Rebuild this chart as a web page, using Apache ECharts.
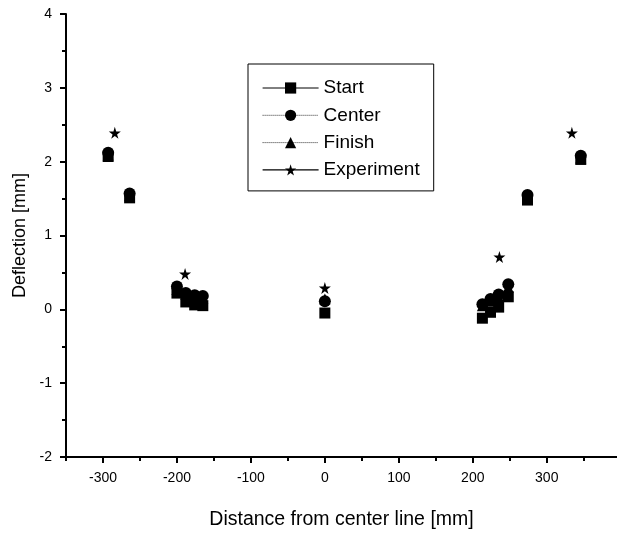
<!DOCTYPE html>
<html><head><meta charset="utf-8">
<script src="https://cdn.jsdelivr.net/npm/echarts@6/dist/echarts.min.js"></script>
<style>html,body{margin:0;padding:0;background:#fff}#c{width:617px;height:535px}</style>
</head><body><div id="c"></div>
<script>
// ---- data ----
const seriesNames = ['Start', 'Center', 'Finish', 'Experiment'];
const groupX  = [-293, -264, -200, -188, -176, -165, 0, 213, 224, 235, 248, 274, 346];
const startY  = [2.07, 1.51, 0.22, 0.10, 0.06, 0.05, -0.05, -0.12, -0.04, 0.03, 0.17, 1.48, 2.03];
const centerY = [2.12, 1.57, 0.31, 0.22, 0.19, 0.18, 0.11, 0.07, 0.14, 0.20, 0.34, 1.55, 2.08];
const finishY = [2.09, 1.54, 0.27, 0.20, 0.18, 0.15, 0.14, 0.05, 0.11, 0.17, 0.30, 1.52, 2.05];
const expX    = [-284, -189, 0, 236, 334];
const expY    = [2.39, 0.48, 0.29, 0.71, 2.39];
const xMajorTicks = [-300, -200, -100, 0, 100, 200, 300];
const xMinorTicks = [-350, -250, -150, -50, 50, 150, 250, 350];

const zip = (xs, ys) => xs.map((x, i) => [x, ys[i]]);
const STAR = 'path://M50,0 L61,35 L98,35 L68,57 L79,91 L50,70 L21,91 L32,57 L2,35 L39,35 Z';
const FONT = '"Liberation Sans", Arial, sans-serif';

const chart = echarts.init(document.getElementById('c'), null, {renderer: 'canvas'});
const mk = (name, data, symbol, size) => ({
  name, type: 'line', data, symbol, symbolSize: size,
  showAllSymbol: true,
  itemStyle: {color: '#000'},
  lineStyle: {opacity: 0, width: 0},
  emphasis: {disabled: true},
  animation: false
});
const legendLine = (type, color, width) => ({opacity: 1, width, type, color});
chart.setOption({
  animation: false,
  grid: {left: 66, right: 0, top: 14, bottom: 76, containLabel: false},
  legend: {
    orient: 'vertical', left: 248, top: 64,
    padding: [14.5, 14, 11.5, 14],
    itemWidth: 56, itemHeight: 14, itemGap: 8.3,
    borderColor: '#000', borderWidth: 1,
    textStyle: {fontFamily: FONT, fontSize: 19, color: '#000'},
    data: [
      {name: 'Start', lineStyle: legendLine('solid', '#000', 1)},
      {name: 'Center', lineStyle: legendLine('dotted', '#333', 1)},
      {name: 'Finish', lineStyle: legendLine('dotted', '#333', 1)},
      {name: 'Experiment', lineStyle: legendLine('solid', '#000', 1.2)}
    ]
  },
  xAxis: [{
    type: 'value', min: -350, max: 395,
    name: 'Distance from center line [mm]', nameLocation: 'middle', nameGap: 53,
    nameTextStyle: {fontFamily: FONT, fontSize: 19.5, color: '#000'},
    axisLine: {show: true, onZero: false, lineStyle: {color: '#000', width: 2}},
    axisTick: {show: true, customValues: xMajorTicks, length: 6, lineStyle: {color: '#000', width: 2}},
    axisLabel: {customValues: xMajorTicks, margin: 14, fontFamily: FONT, fontSize: 14, color: '#000'},
    splitLine: {show: false}
  }, {
    type: 'value', min: -350, max: 395, position: 'bottom',
    axisLine: {show: false, onZero: false},
    axisTick: {show: true, customValues: xMinorTicks, length: 4, lineStyle: {color: '#000', width: 2}},
    axisLabel: {show: false},
    splitLine: {show: false}
  }],
  yAxis: {
    type: 'value', min: -2, max: 4, interval: 1,
    name: 'Deflection [mm]', nameLocation: 'middle', nameGap: 35,
    nameTextStyle: {fontFamily: FONT, fontSize: 18, color: '#000'},
    axisLine: {show: true, onZero: false, lineStyle: {color: '#000', width: 2}},
    axisTick: {show: true, length: 6, lineStyle: {color: '#000', width: 2}},
    minorTick: {show: true, splitNumber: 2, length: 4, lineStyle: {color: '#000', width: 2}},
    axisLabel: {margin: 14, fontFamily: FONT, fontSize: 14, color: '#000'},
    splitLine: {show: false}
  },
  series: [
    mk('Start', zip(groupX, startY), 'rect', 11),
    mk('Center', zip(groupX, centerY), 'circle', 12),
    mk('Finish', zip(groupX, finishY), 'triangle', 11),
    mk('Experiment', zip(expX, expY), STAR, 12)
  ]
});
</script></body></html>
